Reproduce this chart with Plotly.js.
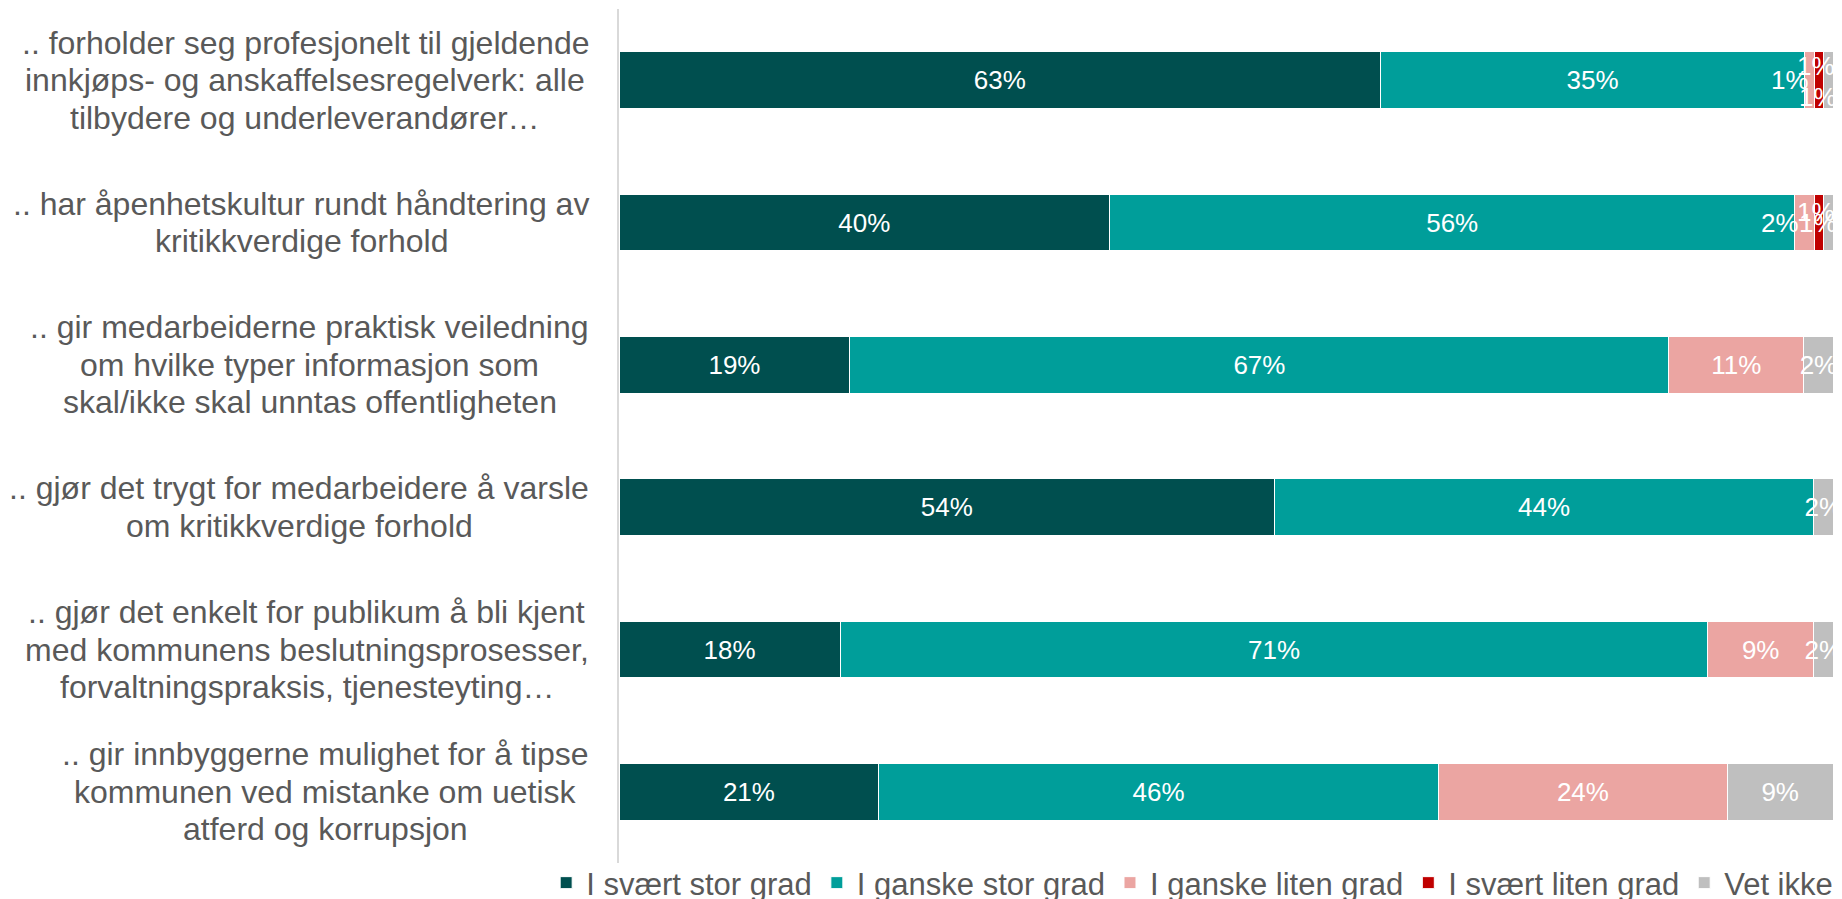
<!DOCTYPE html>
<html>
<head>
<meta charset="utf-8">
<script src="https://cdn.plot.ly/plotly-3.0.1.min.js"></script>
<style>html,body{margin:0;padding:0;background:#fff;}#chart{width:1842px;height:899px;}</style>
</head>
<body>
<div id="chart"></div>
<script>
const categories = [
  ".. forholder seg profesjonelt til gjeldende<br>innkjøps- og anskaffelsesregelverk: alle<br>tilbydere og underleverandører…",
  ".. har åpenhetskultur rundt håndtering av<br>kritikkverdige forhold",
  ".. gir medarbeiderne praktisk veiledning<br>om hvilke typer informasjon som<br>skal/ikke skal unntas offentligheten",
  ".. gjør det trygt for medarbeidere å varsle<br>om kritikkverdige forhold",
  ".. gjør det enkelt for publikum å bli kjent<br>med kommunens beslutningsprosesser,<br>forvaltningspraksis, tjenesteyting…",
  ".. gir innbyggerne mulighet for å tipse<br>kommunen ved mistanke om uetisk<br>atferd og korrupsjon"
];
const seriesNames = ["I svært stor grad", "I ganske stor grad", "I ganske liten grad", "I svært liten grad", "Vet ikke"];
// Shares (%); labels show the rounded values
const svaertStorGrad   = [62.7, 40.4, 19.0, 54.0, 18.2, 21.4];
const ganskeStorGrad   = [34.9, 56.4, 67.4, 44.4, 71.4, 46.1];
const ganskeLitenGrad  = [0.8, 1.6, 11.1, 0, 8.7, 23.8];
const svaertLitenGrad  = [0.8, 0.8, 0, 0, 0, 0];
const vetIkke          = [0.75, 0.75, 2.4, 1.6, 1.6, 8.7];
const seriesValues = [svaertStorGrad, ganskeStorGrad, ganskeLitenGrad, svaertLitenGrad, vetIkke];
const seriesColors = ["#004F4F", "#009E9A", "#EBA5A2", "#C00000", "#BFBFBF"];

// style: pixel nudges for crowded labels (bar index, series index) -> [dx, dy]
const labelNudges = {
  "0,2": [-19, 0], "0,3": [-3, -14], "0,4": [-10, 17],
  "1,2": [-24, 0], "1,3": [-3, -11], "1,4": [-10, 0]
};

const FONT = "Liberation Sans, Arial, sans-serif";
const LABEL_SIZE = 32;
const LINE_H = 37.6;
const fmt = v => v > 0 ? Math.round(v) + "%" : "";

const traces = seriesValues.map((vals, s) => ({
  type: "bar",
  orientation: "h",
  name: seriesNames[s],
  y: categories,
  x: vals,
  text: vals.map((v, b) => labelNudges[b + "," + s] ? "" : fmt(v)),
  textposition: "inside",
  insidetextanchor: "middle",
  textangle: 0,
  constraintext: "none",
  textfont: {family: FONT, size: 26, color: "#FFFFFF"},
  marker: {color: seriesColors[s], line: {color: "#FFFFFF", width: 1}},
  hoverinfo: "name+x"
}));

const annotations = [];

// crowded small-segment labels, positioned at the segment centre on the x axis
categories.forEach((c, b) => {
  const total = seriesValues.reduce((a, arr) => a + arr[b], 0);
  let cum = 0;
  seriesValues.forEach((arr, s) => {
    const v = arr[b];
    const key = b + "," + s;
    if (labelNudges[key]) {
      annotations.push({
        xref: "x", yref: "y",
        x: (cum + v / 2) / total * 100, y: b,
        xanchor: "center", yanchor: "middle",
        xshift: labelNudges[key][0], yshift: -labelNudges[key][1],
        showarrow: false,
        text: fmt(v),
        font: {family: FONT, size: 26, color: "#FFFFFF"}
      });
    }
    cum += v;
  });
});

// category labels: centred lines, block right-aligned next to the axis
const ctx = document.createElement("canvas").getContext("2d");
ctx.font = LABEL_SIZE + "px 'Liberation Sans', Arial, sans-serif";
categories.forEach((c, i) => {
  const lines = c.split("<br>");
  const widths = lines.map(l => ctx.measureText(l).width);
  const blockW = Math.max(...widths);
  const n = lines.length;
  lines.forEach((l, j) => {
    annotations.push({
      xref: "paper", yref: "y",
      x: 0, y: i,
      xanchor: "right", yanchor: "middle",
      xshift: -28 - (blockW - widths[j]) / 2,
      yshift: ((n - 1) / 2 - j) * LINE_H,
      showarrow: false,
      text: l,
      font: {family: FONT, size: LABEL_SIZE, color: "#595959"}
    });
  });
});

const layout = {
  width: 1842, height: 899,
  margin: {l: 619, r: 9, t: 9, b: 36, autoexpand: false},
  barmode: "stack",
  barnorm: "percent",
  bargap: 0.6,
  uniformtext: {mode: "show", minsize: 26},
  paper_bgcolor: "#FFFFFF",
  plot_bgcolor: "#FFFFFF",
  font: {family: FONT, color: "#595959"},
  xaxis: {range: [0, 100], showticklabels: false, showgrid: false, zeroline: false, showline: false, fixedrange: true},
  yaxis: {autorange: "reversed", showticklabels: false, showgrid: false, zeroline: false,
          showline: true, linecolor: "#D9D9D9", linewidth: 2, ticks: ""},
  showlegend: true,
  legend: {orientation: "h", x: -0.060, xanchor: "left", y: -0.0234, yanchor: "middle",
           font: {family: FONT, size: 31, color: "#595959"}, traceorder: "normal",
           itemwidth: 30, bgcolor: "rgba(0,0,0,0)"},
  annotations: annotations
};

Plotly.newPlot("chart", traces, layout, {displayModeBar: false, staticPlot: true});
</script>
</body>
</html>
